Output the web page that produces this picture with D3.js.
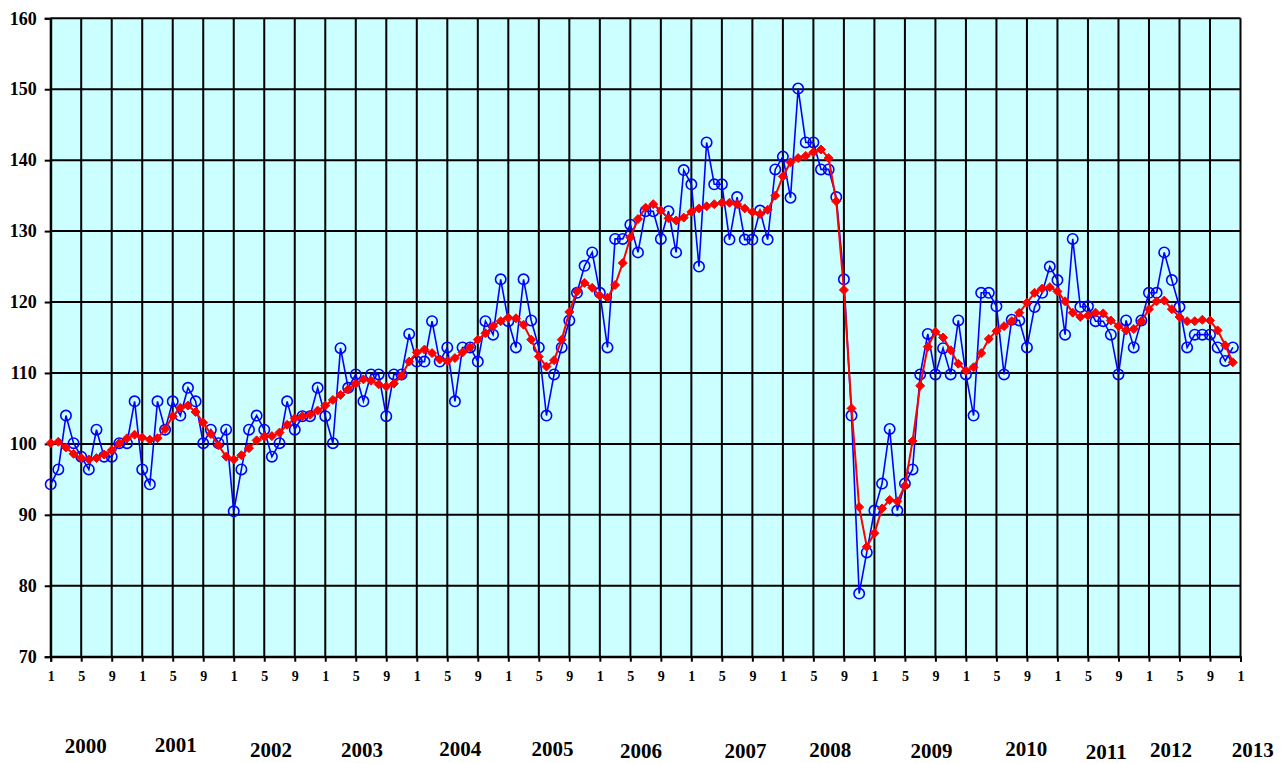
<!DOCTYPE html>
<html>
<head>
<meta charset="utf-8">
<script src="https://cdn.jsdelivr.net/npm/d3@7"></script>
<style>
    body { margin: 0; background: #fff; }
    svg text { font-family: "Liberation Serif", "Times New Roman", serif; font-weight: bold; fill: #000; }
</style>
</head>
<body>
<div id="chart"></div>
<script>
// monthly index, Jan 2000 .. Dec 2012 (blue circles)
var monthly = [
    94.3, 96.4, 104.0, 100.1, 98.2, 96.4, 102.0, 98.2, 98.2, 100.1, 100.1, 106.0,
    96.4, 94.3, 106.0, 102.0, 106.0, 104.0, 107.9, 106.0, 100.1, 102.0, 100.1, 102.0,
    90.5, 96.4, 102.0, 104.0, 102.0, 98.2, 100.1, 106.0, 102.0, 103.9, 103.9, 107.9,
    103.9, 100.1, 113.5, 107.9, 109.8, 106.0, 109.8, 109.8, 103.9, 109.8, 109.8, 115.5,
    111.6, 111.6, 117.3, 111.6, 113.6, 106.0, 113.6, 113.6, 111.6, 117.3, 115.4, 123.2,
    117.3, 113.6, 123.2, 117.4, 113.6, 104.0, 109.8, 113.6, 117.4, 121.3, 125.1, 127.0,
    121.3, 113.6, 128.9, 128.9, 130.9, 127.0, 132.8, 132.8, 128.9, 132.8, 127.0, 138.6,
    136.6, 125.0, 142.5, 136.6, 136.6, 128.8, 134.8, 128.8, 128.8, 132.9, 128.8, 138.7,
    140.5, 134.7, 150.1, 142.5, 142.5, 138.7, 138.7, 134.8, 123.2, 104.0, 78.9, 84.7,
    90.6, 94.4, 102.1, 90.6, 94.4, 96.4, 109.8, 115.5, 109.8, 113.5, 109.8, 117.4,
    109.8, 104.0, 121.3, 121.3, 119.4, 109.8, 117.5, 117.4, 113.6, 119.3, 121.3, 125.0,
    123.1, 115.4, 128.9, 119.3, 119.4, 117.3, 117.3, 115.4, 109.8, 117.4, 113.6, 117.4,
    121.3, 121.3, 127.0, 123.1, 119.3, 113.6, 115.4, 115.4, 115.4, 113.6, 111.7, 113.6
]

// smoothed index (red diamonds)
var smoothed = [
    100.1, 100.3, 99.5, 98.6, 98.0, 97.8, 98.0, 98.5, 99.1, 100.1, 100.8, 101.3,
    100.9, 100.6, 100.8, 102.1, 103.9, 105.1, 105.4, 104.5, 103.0, 101.4, 99.8, 98.2,
    97.8, 98.4, 99.4, 100.5, 101.0, 101.1, 101.6, 102.7, 103.6, 103.9, 104.1, 104.7,
    105.4, 106.2, 106.9, 107.7, 108.5, 109.1, 108.9, 108.4, 108.1, 108.5, 109.6, 111.6,
    112.9, 113.3, 112.8, 111.9, 111.7, 112.1, 112.9, 113.6, 114.7, 115.6, 116.6, 117.3,
    117.8, 117.7, 116.8, 114.7, 112.3, 110.9, 111.8, 114.7, 118.6, 121.5, 122.7, 122.0,
    120.9, 120.6, 122.4, 125.5, 129.1, 131.7, 133.3, 133.8, 132.9, 131.8, 131.5, 131.9,
    132.7, 133.2, 133.5, 133.8, 134.0, 134.0, 133.8, 133.2, 132.7, 132.4, 133.0, 135.0,
    137.7, 139.7, 140.3, 140.6, 141.1, 141.5, 140.3, 134.2, 121.7, 105.0, 91.1, 85.5,
    87.4, 90.9, 92.1, 91.9, 94.1, 100.4, 108.2, 113.7, 115.8, 115.0, 113.2, 111.3,
    110.3, 110.8, 112.8, 114.8, 115.9, 116.6, 117.3, 118.5, 119.9, 121.3, 121.9, 122.1,
    121.5, 120.1, 118.5, 117.9, 118.1, 118.5, 118.4, 117.4, 116.6, 116.0, 116.2, 117.3,
    119.0, 120.1, 120.2, 119.0, 117.9, 117.3, 117.3, 117.5, 117.4, 116.0, 113.9, 111.5
]

var years = ["2000", "2001", "2002", "2003", "2004", "2005", "2006",
    "2007", "2008", "2009", "2010", "2011", "2012", "2013"]
var yTicks = [70, 80, 90, 100, 110, 120, 130, 140, 150, 160]
var monthLabels = ["1", "5", "9"]

// where the year captions sit (in months from Jan 2000) - they are not evenly spaced
var yearLabelAt = [4.6, 16.4, 28.9, 40.8, 53.7, 65.8, 77.4, 91.1, 102.2, 115.5, 127.9, 138.4, 146.9, 157.6]
var yearLabelDy = [-3, -4, 1, 1, 0, 0, 2, 2, 1, 2, 0, 3, 1, 1]

function main() {
    const W = 1287, H = 763
    const left = 50.7, right = 1240.5, top = 18.3, bottom = 656.7
    const nMonths = 156

    const svg = d3.select("#chart")
        .append("svg")
        .attr("width", W)
        .attr("height", H)

    const x = d3.scaleLinear().domain([0, nMonths]).range([left, right])
    const y = d3.scaleLinear().domain([70, 160]).range([bottom, top])

    // plot background
    svg.append("rect")
        .attr("x", left)
        .attr("y", top)
        .attr("width", right - left)
        .attr("height", bottom - top)
        .style("fill", "#ccffff")

    const xTickVals = d3.range(0, nMonths + 1, 4)

    // grid
    svg.append("g")
        .selectAll("line.v")
        .data(xTickVals)
        .join("line")
        .attr("x1", d => x(d)).attr("x2", d => x(d))
        .attr("y1", top).attr("y2", bottom)
        .style("stroke", "#000")
        .style("stroke-width", 2)
    svg.append("g")
        .selectAll("line.h")
        .data(yTicks)
        .join("line")
        .attr("x1", left).attr("x2", right)
        .attr("y1", d => y(d)).attr("y2", d => y(d))
        .style("stroke", "#000")
        .style("stroke-width", 2)

    // y axis
    const yAxis = svg.append("g")
        .attr("transform", `translate(${left}, 0)`)
        .call(d3.axisLeft(y).tickValues(yTicks).tickSize(6).tickPadding(8).tickFormat(d3.format("d")))
    yAxis.select(".domain").style("stroke", "#000").style("stroke-width", 2)
    yAxis.selectAll(".tick line").style("stroke", "#000").style("stroke-width", 2)
    yAxis.selectAll("text").style("font-size", "18px")

    // x axis (month numbers)
    const xAxis = svg.append("g")
        .attr("transform", `translate(0, ${bottom})`)
        .call(d3.axisBottom(x).tickValues(xTickVals).tickSize(5).tickPadding(9)
            .tickFormat(d => monthLabels[(d % 12) / 4]))
    xAxis.select(".domain").style("stroke", "#000").style("stroke-width", 2)
    xAxis.selectAll(".tick line").style("stroke", "#000").style("stroke-width", 2)
    xAxis.selectAll("text").style("font-size", "14px")

    // year captions
    svg.append("g")
        .selectAll("text")
        .data(years)
        .join("text")
        .attr("x", (d, i) => x(yearLabelAt[i]))
        .attr("y", (d, i) => 756 + yearLabelDy[i])
        .attr("text-anchor", "middle")
        .style("font-size", "21px")
        .text(d => d)

    // blue series
    const line = d3.line()
        .x((d, i) => x(i))
        .y(d => y(d))
    svg.append("path")
        .datum(monthly)
        .attr("d", line)
        .style("fill", "none")
        .style("stroke", "#0000ff")
        .style("stroke-width", 1.6)
    svg.append("g")
        .selectAll("circle")
        .data(monthly)
        .join("circle")
        .attr("cx", (d, i) => x(i))
        .attr("cy", d => y(d))
        .attr("r", 5.2)
        .style("fill", "none")
        .style("stroke", "#0000ff")
        .style("stroke-width", 1.6)

    // red series
    svg.append("path")
        .datum(smoothed)
        .attr("d", line)
        .style("fill", "none")
        .style("stroke", "#ff0000")
        .style("stroke-width", 2)
    svg.append("g")
        .selectAll("path")
        .data(smoothed)
        .join("path")
        .attr("d", "M0,-4.5L4.5,0L0,4.5L-4.5,0Z")
        .attr("transform", (d, i) => `translate(${x(i)}, ${y(d)})`)
        .style("fill", "#ff0000")
        .style("stroke", "#ff0000")
        .style("stroke-width", 1)
}

main()
</script>
</body>
</html>
